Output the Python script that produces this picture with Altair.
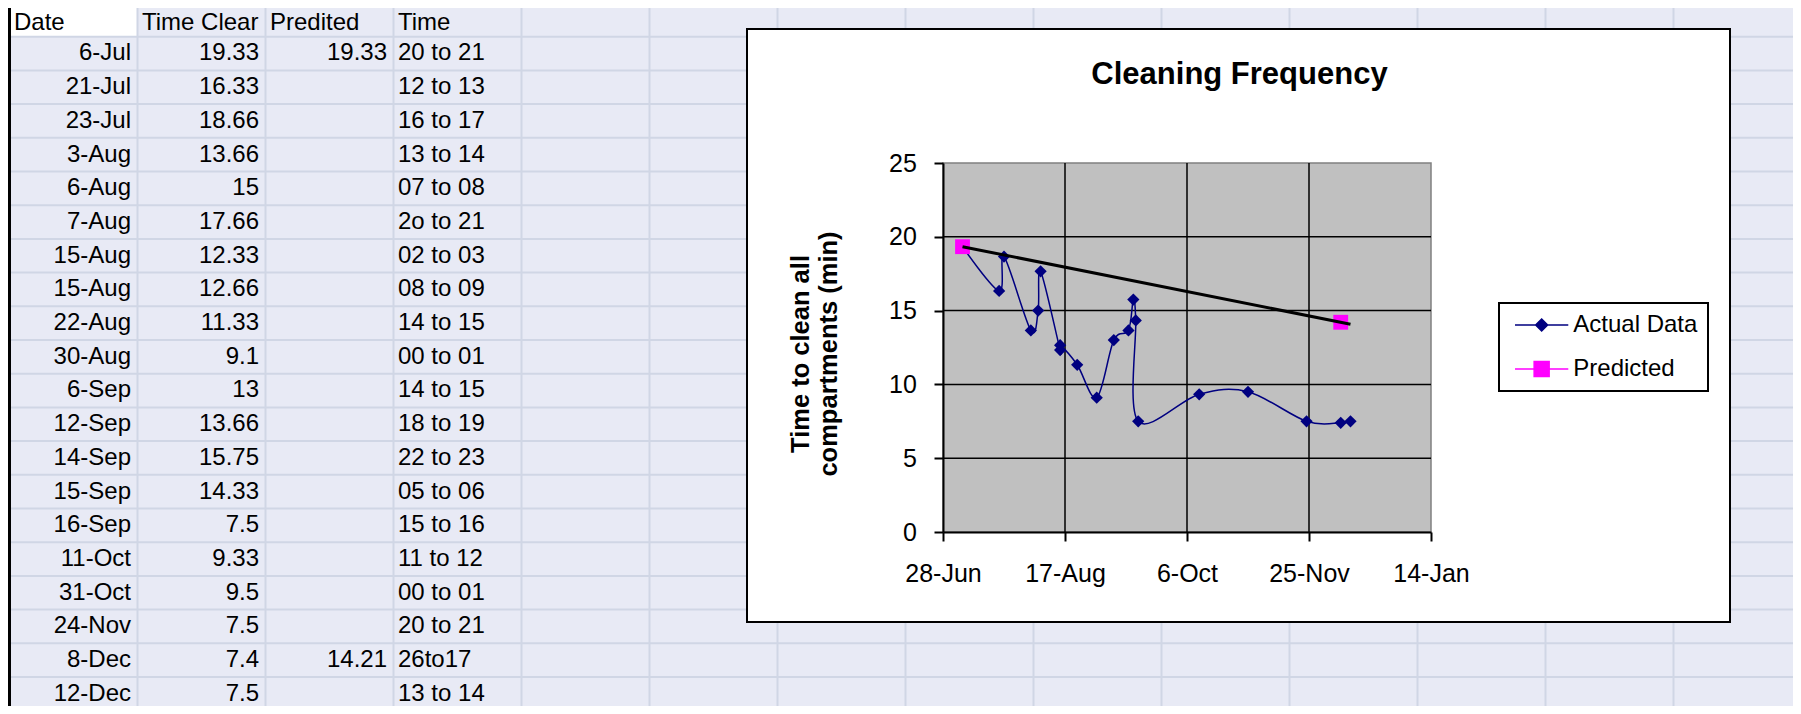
import altair as alt
import pandas as pd

# ---------------- data ----------------
DATES = ["2008-07-06", "2008-07-21", "2008-07-23", "2008-08-03", "2008-08-06",
         "2008-08-07", "2008-08-15", "2008-08-15", "2008-08-22", "2008-08-30",
         "2008-09-06", "2008-09-12", "2008-09-14", "2008-09-15", "2008-09-16",
         "2008-10-11", "2008-10-31", "2008-11-24", "2008-12-08", "2008-12-12"]
TIME_CLEAN = [19.33, 16.33, 18.66, 13.66, 15, 17.66, 12.33, 12.66, 11.33, 9.1,
              13, 13.66, 15.75, 14.33, 7.5, 9.33, 9.5, 7.5, 7.4, 7.5]
PREDICTED = [19.33, None, None, None, None, None, None, None, None, None,
             None, None, None, None, None, None, None, None, 14.21, None]
TIME_SLOT = ["20 to 21", "12 to 13", "16 to 17", "13 to 14", "07 to 08",
             "2o to 21", "02 to 03", "08 to 09", "14 to 15", "00 to 01",
             "14 to 15", "18 to 19", "22 to 23", "05 to 06", "15 to 16",
             "11 to 12", "00 to 01", "20 to 21", "26to17", "13 to 14"]
HEADERS = ["Date", "Time Clear", "Predited", "Time"]
SERIES = ["Actual Data", "Predicted"]
TITLE = "Cleaning Frequency"
Y_TITLE = ["Time to clean all", "compartments  (min)"]
X_TICKS = ["2008-06-28", "2008-08-17", "2008-10-06", "2008-11-25", "2009-01-14"]
Y_TICKS = [0, 5, 10, 15, 20, 25]

# ---------------- styles ----------------
FONT = "Liberation Sans"
NAVY = "#000080"
MAGENTA = "#FF00FF"
SHEET_BG = "#E8EAF5"
SHEET_GRID = "#D0D6E5"
N_COLS, N_ROWS = 14, 21


def dt(s):
    y, m, d = (int(p) for p in s.split("-"))
    return alt.DateTime(year=y, month=m, date=d, utc=True)


def ms(s):
    return int(pd.Timestamp(s).value // 10**6)


def fmt(v):
    return f"{v:g}"


# ---------------- spreadsheet (cells drawn through their own scales) ----------------
SX = alt.Scale(domain=[0, N_COLS], range=[-933.5, 858.5], nice=False, zero=False)
SY = alt.Scale(domain=[0, N_ROWS], range=[-160.0, 547.7], nice=False, zero=False)

labels = [f"{pd.Timestamp(d).day}-{pd.Timestamp(d).strftime('%b')}" for d in DATES]
right_rows = []
for i, lab in enumerate(labels):
    r = i + 2
    right_rows.append({"c": 1, "r": r, "t": lab})
    right_rows.append({"c": 2, "r": r, "t": fmt(TIME_CLEAN[i])})
    if PREDICTED[i] is not None:
        right_rows.append({"c": 3, "r": r, "t": fmt(PREDICTED[i])})
head_rows = [{"c": i, "r": 1, "t": h} for i, h in enumerate(HEADERS)]
left_rows = [{"c": 3, "r": i + 2, "t": s} for i, s in enumerate(TIME_SLOT)]

sheet_box = alt.Data(values=[{"x0": 0, "x1": N_COLS, "y0": 0, "y1": N_ROWS}])
a1_box = alt.Data(values=[{"x0": 0, "x1": 1, "y0": 0, "y1": 1}])


def box_enc():
    return dict(
        x=alt.X("x0:Q", scale=SX, axis=None), x2=alt.X2("x1"),
        y=alt.Y("y0:Q", scale=SY, axis=None), y2=alt.Y2("y1"),
    )


def cell_enc():
    return dict(
        x=alt.X("c:Q", scale=SX, axis=None),
        y=alt.Y("r:Q", scale=SY, axis=None),
        text="t:N",
    )


bg = alt.Chart(sheet_box).mark_rect(fill=SHEET_BG).encode(**box_enc())
a1 = alt.Chart(a1_box).mark_rect(fill="white").encode(**box_enc())
vlines = alt.Chart(alt.sequence(1, N_COLS, as_="k")).mark_rule(
    color=SHEET_GRID, strokeWidth=2
).encode(
    x=alt.X("k:Q", scale=SX, axis=None),
    y=alt.Y(datum=0, type="quantitative", scale=SY, axis=None),
    y2=alt.Y2(datum=N_ROWS),
)
hlines = alt.Chart(alt.sequence(1, N_ROWS, as_="k")).mark_rule(
    color=SHEET_GRID, strokeWidth=2
).encode(
    y=alt.Y("k:Q", scale=SY, axis=None),
    x=alt.X(datum=0, type="quantitative", scale=SX, axis=None),
    x2=alt.X2(datum=N_COLS),
)
txt_r = alt.Chart(alt.Data(values=right_rows)).mark_text(
    align="right", baseline="alphabetic", dx=-6.5, dy=-10,
    font=FONT, fontSize=24, color="black"
).encode(**cell_enc())
txt_l = alt.Chart(alt.Data(values=left_rows)).mark_text(
    align="left", baseline="alphabetic", dx=4.5, dy=-10,
    font=FONT, fontSize=24, color="black"
).encode(**cell_enc())
txt_h = alt.Chart(alt.Data(values=head_rows)).mark_text(
    align="left", baseline="alphabetic", dx=4.5, dy=-6.3,
    font=FONT, fontSize=24, color="black"
).encode(**cell_enc())
border = alt.Chart(sheet_box).mark_rect(
    fillOpacity=0, stroke="black", strokeWidth=3
).encode(**box_enc())

sheet = alt.layer(bg, a1, vlines, hlines, txt_r, txt_l, txt_h, border)

# ---------------- embedded chart ----------------
XS = alt.Scale(type="utc", domain=[dt(X_TICKS[0]), dt(X_TICKS[-1])], nice=False)
YS = alt.Scale(domain=[Y_TICKS[0], Y_TICKS[-1]], nice=False)

XA = alt.Axis(
    values=[dt(v) for v in X_TICKS],
    labelExpr="utcFormat(datum.value, '%-d-%b')",
    title=None, grid=False, labelFlush=False, labelOverlap=False, labelAngle=0,
    labelFont=FONT, labelFontSize=25, labelColor="black", labelPadding=20,
    tickColor="black", tickWidth=2, tickSize=9,
    domainColor="black", domainWidth=2, zindex=1,
)
YA = alt.Axis(
    values=Y_TICKS, title=Y_TITLE, grid=False,
    labelFont=FONT, labelFontSize=25, labelColor="black", labelPadding=17.6,
    tickColor="black", tickWidth=2, tickSize=9,
    domainColor="black", domainWidth=2, zindex=1,
    titleFont=FONT, titleFontSize=25.5, titleFontWeight="bold", titleColor="black",
    titleAngle=270, titleAlign="center", titleBaseline="alphabetic",
    titleX=-134.7, titleY=190.5, titleLineHeight=28.4,
)

main = pd.DataFrame({
    "idx": list(range(len(DATES))),
    "date": DATES,
    "actual": TIME_CLEAN,
    "pred": PREDICTED,
})

one = alt.Data(values=[{"t": TITLE}])
frame = alt.Chart(one).mark_rect(fill="white", stroke="black", strokeWidth=2).encode(
    x=alt.value(-196), x2=alt.value(787), y=alt.value(-134), y2=alt.value(459)
)
title_mark = alt.Chart(one).mark_text(
    font=FONT, fontSize=31, fontWeight="bold", align="center",
    baseline="alphabetic", color="black"
).encode(x=alt.value(296.5), y=alt.value(-79), text="t:N")

area = alt.Chart(alt.Data(values=[{
    "x0": X_TICKS[0], "x1": X_TICKS[-1], "y0": Y_TICKS[0], "y1": Y_TICKS[-1]
}])).mark_rect(fill="#C0C0C0", stroke="#808080", strokeWidth=1.5).encode(
    x=alt.X("x0:T", scale=XS, axis=XA), x2=alt.X2("x1"),
    y=alt.Y("y0:Q", scale=YS, axis=YA), y2=alt.Y2("y1"),
)
vgrid = alt.Chart(alt.Data(values=[{"d": v} for v in X_TICKS[1:-1]])).mark_rule(
    color="black", strokeWidth=1.5
).encode(x=alt.X("d:T", scale=XS, axis=XA))
hgrid = alt.Chart(alt.Data(values=[{"v": v} for v in Y_TICKS[1:-1]])).mark_rule(
    color="black", strokeWidth=1.5
).encode(y=alt.Y("v:Q", scale=YS, axis=YA))

base = alt.Chart(main)
line = base.mark_line(interpolate="cardinal", color=NAVY, strokeWidth=1.5).encode(
    x=alt.X("date:T", scale=XS, axis=XA),
    y=alt.Y("actual:Q", scale=YS, axis=YA),
    order="idx:Q",
)
pts = base.mark_point(shape="diamond", filled=True, size=150, color=NAVY, opacity=1).encode(
    x=alt.X("date:T", scale=XS, axis=XA),
    y=alt.Y("actual:Q", scale=YS, axis=YA),
)
pred = base.transform_filter("isValid(datum.pred)").mark_point(
    shape="square", filled=True, size=220, color=MAGENTA, opacity=1
).encode(
    x=alt.X("date:T", scale=XS, axis=XA),
    y=alt.Y("pred:Q", scale=YS, axis=YA),
)
trend = base.transform_filter("isValid(datum.pred)").transform_calculate(
    t="toNumber(toDate(datum.date))"
).transform_regression(
    "t", "pred", extent=[ms(DATES[0]), ms(DATES[-1])]
).mark_line(color="black", strokeWidth=3).encode(
    x=alt.X("t:T", scale=XS, axis=XA),
    y=alt.Y("pred:Q", scale=YS, axis=YA),
)

PATH_D = "M-4.44,0H4.44M0,-1L1,0L0,1L-1,0Z"
PATH_S = "M-4.44,0H4.44M-1.25,-1.25H1.25V1.25H-1.25Z"
LEG = alt.Legend(title=None, orient="none", legendX=556, legendY=140, direction="vertical")
legend_layer = alt.Chart(alt.Data(values=[{"series": s} for s in SERIES])).transform_filter(
    "false"
).mark_point(filled=True, size=144, strokeWidth=1.5, opacity=1).encode(
    fill=alt.Fill("series:N", scale=alt.Scale(domain=SERIES, range=[NAVY, MAGENTA]), legend=LEG),
    stroke=alt.Stroke("series:N", scale=alt.Scale(domain=SERIES, range=[NAVY, MAGENTA]), legend=LEG),
    shape=alt.Shape("series:N", scale=alt.Scale(domain=SERIES, range=[PATH_D, PATH_S]), legend=LEG),
)

plot = alt.layer(frame, title_mark, area, vgrid, hgrid, line, pts, pred, trend, legend_layer)

chart = alt.layer(sheet, plot).resolve_scale(
    x="independent", y="independent"
).properties(
    width=488, height=369,
    padding={"left": 935, "top": 155, "right": 362, "bottom": 174},
    autosize=alt.AutoSizeParams(type="none"),
).configure(
    font=FONT
).configure_view(
    stroke="transparent", strokeWidth=0
).configure_legend(
    padding=10, rowPadding=20, labelFont=FONT, labelFontSize=24, labelColor="black",
    labelOffset=19.65, symbolOffset=20.65, symbolSize=144, symbolStrokeWidth=1.5,
    symbolFillColor="black", symbolStrokeColor="black", symbolOpacity=1,
    strokeColor="black", strokeWidth=2, fillColor="white", cornerRadius=0, labelLimit=300,
)

chart.save("out.html", embed_options={"renderer": "svg", "actions": False})
